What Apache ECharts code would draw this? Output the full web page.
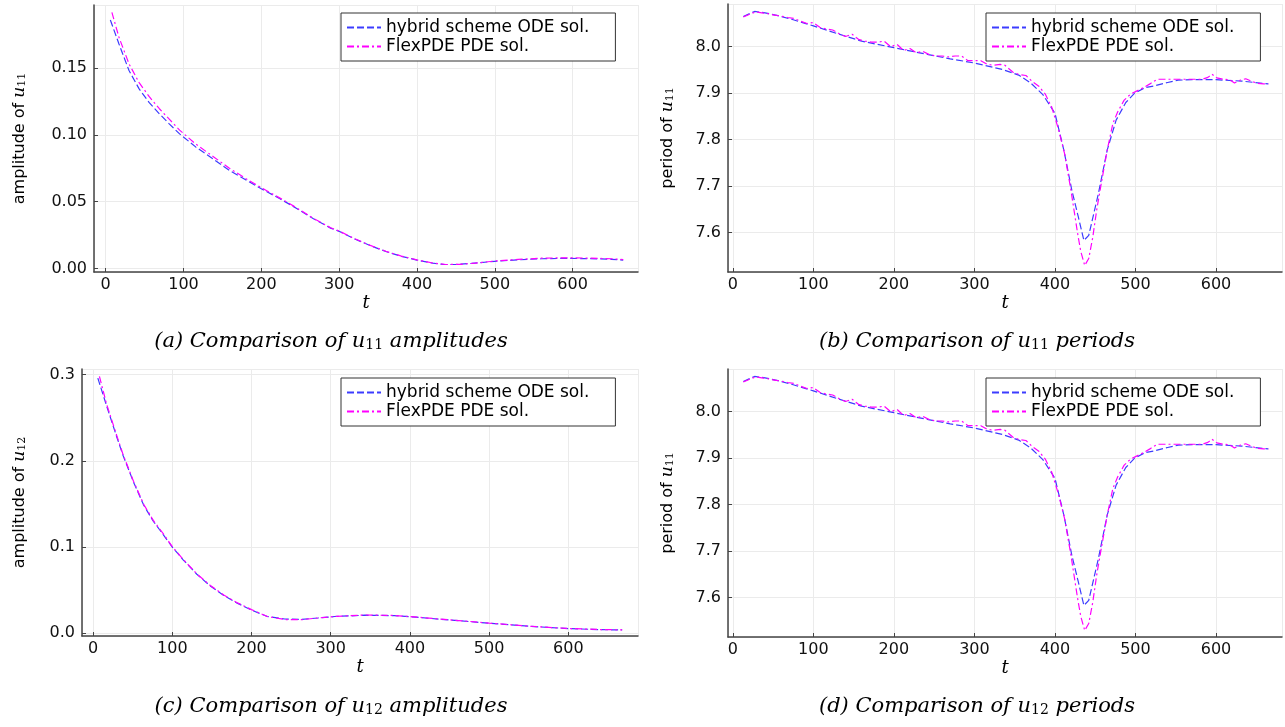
<!DOCTYPE html>
<html>
<head>
<meta charset="utf-8">
<script src="https://cdn.jsdelivr.net/npm/echarts@6/dist/echarts.min.js"></script>
<style>
  html, body { margin: 0; background: #fff; }
  #chart { width: 1285px; height: 727px; }
</style>
</head>
<body>
<div id="chart"></div>
<script>
// amplitude of u11 (panel a)
var ampU11OdeT = [6, 17, 30, 43, 56, 69, 82, 95, 116, 138, 159, 181, 200, 224, 246, 267, 289, 300, 320, 340, 360, 380, 400, 420, 435, 450, 470, 500, 530, 560, 590, 620, 650, 665];
var ampU11Ode = [0.1858, 0.168, 0.148, 0.1343, 0.124, 0.1157, 0.108, 0.1007, 0.0908, 0.082, 0.0734, 0.066, 0.0597, 0.0522, 0.0448, 0.0373, 0.0303, 0.0279, 0.0222, 0.0172, 0.0128, 0.0092, 0.0064, 0.0041, 0.0031, 0.0031, 0.0039, 0.0055, 0.0066, 0.0074, 0.0077, 0.0075, 0.0070, 0.0064];
var ampU11PdeT = [8, 17, 30, 43, 56, 69, 82, 95, 116, 138, 159, 181, 200, 224, 246, 267, 289, 300, 320, 340, 360, 380, 400, 420, 437, 455, 475, 500, 530, 560, 590, 620, 650, 665];
var ampU11Pde = [0.1915, 0.173, 0.153, 0.139, 0.1285, 0.1195, 0.1115, 0.1035, 0.093, 0.0838, 0.075, 0.067, 0.0605, 0.0527, 0.0452, 0.0376, 0.0306, 0.0281, 0.0224, 0.0174, 0.0130, 0.0094, 0.0066, 0.0042, 0.0031, 0.0032, 0.0041, 0.0057, 0.0069, 0.0078, 0.0081, 0.0079, 0.0074, 0.0068];

// amplitude of u12 (panel c)
var ampU12OdeT = [6, 17, 30, 38, 51, 64, 76, 89, 100, 114, 131, 148, 165, 182, 200, 220, 242, 263, 284, 305, 343, 380, 400, 450, 500, 550, 600, 640, 668];
var ampU12Ode = [0.296, 0.264, 0.2275, 0.206, 0.1755, 0.1485, 0.130, 0.114, 0.100, 0.085, 0.0685, 0.055, 0.044, 0.035, 0.027, 0.0195, 0.0166, 0.0162, 0.0178, 0.0195, 0.021, 0.0205, 0.0193, 0.0155, 0.0118, 0.0082, 0.0055, 0.0043, 0.0039];
var ampU12PdeT = [8, 17, 30, 38, 51, 64, 76, 89, 100, 114, 131, 148, 165, 182, 200, 220, 242, 263, 284, 305, 343, 380, 400, 450, 500, 550, 600, 640, 668];
var ampU12Pde = [0.298, 0.266, 0.229, 0.207, 0.1765, 0.1495, 0.131, 0.115, 0.1005, 0.0855, 0.069, 0.0555, 0.0445, 0.0355, 0.0275, 0.0195, 0.016, 0.0158, 0.0178, 0.0196, 0.0213, 0.0207, 0.0195, 0.0157, 0.0119, 0.0083, 0.0056, 0.0044, 0.0040];

// period of u11 (panels b and d)
var perOdeT = [13, 27, 40, 56, 75, 100, 130, 160, 200, 243, 270, 300, 335, 355, 370, 385, 400, 411, 421, 429, 436, 442, 454, 465, 476, 488, 499, 512, 524, 540, 553, 570, 582, 600, 632, 665];
var perOde = [8.065, 8.076, 8.073, 8.067, 8.058, 8.045, 8.028, 8.012, 7.998, 7.983, 7.974, 7.965, 7.951, 7.939, 7.922, 7.897, 7.857, 7.778, 7.691, 7.634, 7.583, 7.594, 7.684, 7.778, 7.842, 7.880, 7.900, 7.912, 7.916, 7.923, 7.928, 7.929, 7.929, 7.929, 7.926, 7.920];
var perPdeT = [13, 21, 28, 36, 44, 52, 60, 68, 76, 84, 92, 100, 108, 116, 124, 132, 140, 148, 156, 164, 172, 180, 188, 196, 204, 212, 220, 228, 236, 244, 252, 260, 268, 276, 284, 292, 300, 308, 316, 324, 332, 338, 348, 356, 364, 372, 380, 388, 396, 404, 412, 420, 428, 432, 437, 442, 447, 452, 458, 465, 472, 478, 486, 494, 502, 510, 518, 527, 535, 543, 551, 559, 567, 575, 583, 590, 595, 601, 609, 617, 623, 630, 637, 645, 652, 659, 665];
var perPde = [8.064, 8.070, 8.075, 8.073, 8.071, 8.068, 8.066, 8.063, 8.061, 8.055, 8.050, 8.052, 8.042, 8.038, 8.036, 8.028, 8.022, 8.027, 8.016, 8.012, 8.010, 8.010, 8.012, 8.000, 8.005, 7.992, 7.996, 7.987, 7.990, 7.983, 7.980, 7.980, 7.978, 7.980, 7.980, 7.970, 7.970, 7.970, 7.962, 7.960, 7.962, 7.960, 7.945, 7.940, 7.938, 7.925, 7.915, 7.898, 7.870, 7.825, 7.770, 7.690, 7.600, 7.560, 7.529, 7.544, 7.590, 7.650, 7.710, 7.778, 7.835, 7.860, 7.885, 7.898, 7.905, 7.912, 7.920, 7.930, 7.930, 7.930, 7.930, 7.930, 7.930, 7.930, 7.930, 7.934, 7.941, 7.933, 7.930, 7.929, 7.922, 7.928, 7.931, 7.925, 7.921, 7.920, 7.920];

var odeName = 'hybrid scheme ODE sol.';
var pdeName = 'FlexPDE PDE sol.';

function pairs(ts, vs) {
  return ts.map(function (t, i) { return [t, vs[i]]; });
}

var chart = echarts.init(document.getElementById('chart'));

var blue = '#3c3cff';
var magenta = '#ff00ff';
var axisColor = '#444';
var gridColor = '#ebebeb';

var subRich = {
  u: { fontFamily: 'DejaVu Serif', fontStyle: 'italic', fontSize: 17, color: '#000' },
  s: { fontFamily: 'DejaVu Serif', fontSize: 11, color: '#000', verticalAlign: 'bottom' }
};

function xAx(grid, min, max) {
  return {
    type: 'value', gridIndex: grid, min: min, max: max, splitNumber: 7,
    name: 't', nameLocation: 'middle', nameGap: 19,
    nameTextStyle: { fontFamily: 'DejaVu Serif', fontStyle: 'italic', fontSize: 18, color: '#000' },
    axisLine: { onZero: false, lineStyle: { color: axisColor, width: 1.5 } },
    axisTick: { inside: true, length: 4, lineStyle: { color: axisColor } },
    axisLabel: { showMinLabel: false, showMaxLabel: false, margin: 5,
      fontFamily: 'DejaVu Sans', fontSize: 16, color: '#111' },
    splitLine: { show: true, lineStyle: { color: gridColor } }
  };
}

function yAx(grid, min, max, split, digits, label, gap) {
  return {
    type: 'value', gridIndex: grid, min: min, max: max, splitNumber: split,
    name: label, nameLocation: 'middle', nameRotate: 90, nameGap: gap,
    nameTextStyle: { fontFamily: 'DejaVu Sans', fontSize: 16, color: '#000', rich: subRich },
    axisLine: { show: true, onZero: false, lineStyle: { color: axisColor, width: 1.5 } },
    axisTick: { show: true, inside: true, length: 4, lineStyle: { color: axisColor } },
    axisLabel: { showMinLabel: false, showMaxLabel: false, margin: 7,
      fontFamily: 'DejaVu Sans', fontSize: 16, color: '#111',
      formatter: function (v) { return v.toFixed(digits); } },
    splitLine: { show: true, lineStyle: { color: gridColor } }
  };
}

function line(name, idx, data, color, dash) {
  return {
    name: name, type: 'line', xAxisIndex: idx, yAxisIndex: idx,
    data: data, symbol: 'none', animation: false,
    lineStyle: { color: color, width: 1.2, type: dash },
    itemStyle: { color: color }
  };
}

function leg(left, top) {
  return {
    left: left, top: top, orient: 'vertical',
    itemWidth: 34, itemHeight: 12, itemGap: 2,
    padding: [6, 26, 6, 5],
    backgroundColor: '#fff', borderColor: '#333', borderWidth: 1,
    itemStyle: { opacity: 0 },
    textStyle: { fontFamily: 'DejaVu Sans', fontSize: 17, color: '#000', lineHeight: 15 },
    data: [odeName, pdeName]
  };
}

function caption(x, y, letter, idx, word) {
  return {
    type: 'text', x: x, y: y,
    style: {
      text: '(' + letter + ') Comparison of {u|u}{s|' + idx + '} ' + word,
      align: 'center', verticalAlign: 'middle',
      fontFamily: 'DejaVu Serif', fontStyle: 'italic', fontSize: 21, fill: '#000',
      rich: {
        u: { fontFamily: 'DejaVu Serif', fontStyle: 'italic', fontSize: 21 },
        s: { fontFamily: 'DejaVu Serif', fontSize: 14, verticalAlign: 'bottom' }
      }
    }
  };
}

var dashed = [7, 3];
var dashDot = [7, 3, 2, 3];

chart.setOption({
  backgroundColor: '#fff',
  animation: false,
  grid: [
    { left: 94, top: 5, width: 544, height: 267 },
    { left: 728, top: 4, width: 554, height: 268 },
    { left: 82, top: 369, width: 556, height: 267 },
    { left: 728, top: 369, width: 554, height: 268 }
  ],
  xAxis: [
    xAx(0, -15, 684),
    xAx(1, -6, 682),
    xAx(2, -14, 688),
    xAx(3, -6, 682)
  ],
  yAxis: [
    yAx(0, -0.0025, 0.197, 4, 2, 'amplitude of {u|u}{s|11}', 66),
    yAx(1, 7.515, 8.092, 6, 1, 'period of {u|u}{s|11}', 52),
    yAx(2, -0.0031, 0.3066, 3, 1, 'amplitude of {u|u}{s|12}', 54),
    yAx(3, 7.515, 8.092, 6, 1, 'period of {u|u}{s|11}', 52)
  ],
  legend: [
    leg(341, 13),
    leg(986, 13),
    leg(341, 378),
    leg(986, 378)
  ],
  series: [
    line(odeName, 0, pairs(ampU11OdeT, ampU11Ode), blue, dashed),
    line(pdeName, 0, pairs(ampU11PdeT, ampU11Pde), magenta, dashDot),
    line(odeName, 1, pairs(perOdeT, perOde), blue, dashed),
    line(pdeName, 1, pairs(perPdeT, perPde), magenta, dashDot),
    line(odeName, 2, pairs(ampU12OdeT, ampU12Ode), blue, dashed),
    line(pdeName, 2, pairs(ampU12PdeT, ampU12Pde), magenta, dashDot),
    line(odeName, 3, pairs(perOdeT, perOde), blue, dashed),
    line(pdeName, 3, pairs(perPdeT, perPde), magenta, dashDot)
  ],
  graphic: [
    caption(331, 342, 'a', '11', 'amplitudes'),
    caption(977, 342, 'b', '11', 'periods'),
    caption(331, 707, 'c', '12', 'amplitudes'),
    caption(977, 707, 'd', '12', 'periods')
  ]
});
</script>
</body>
</html>
